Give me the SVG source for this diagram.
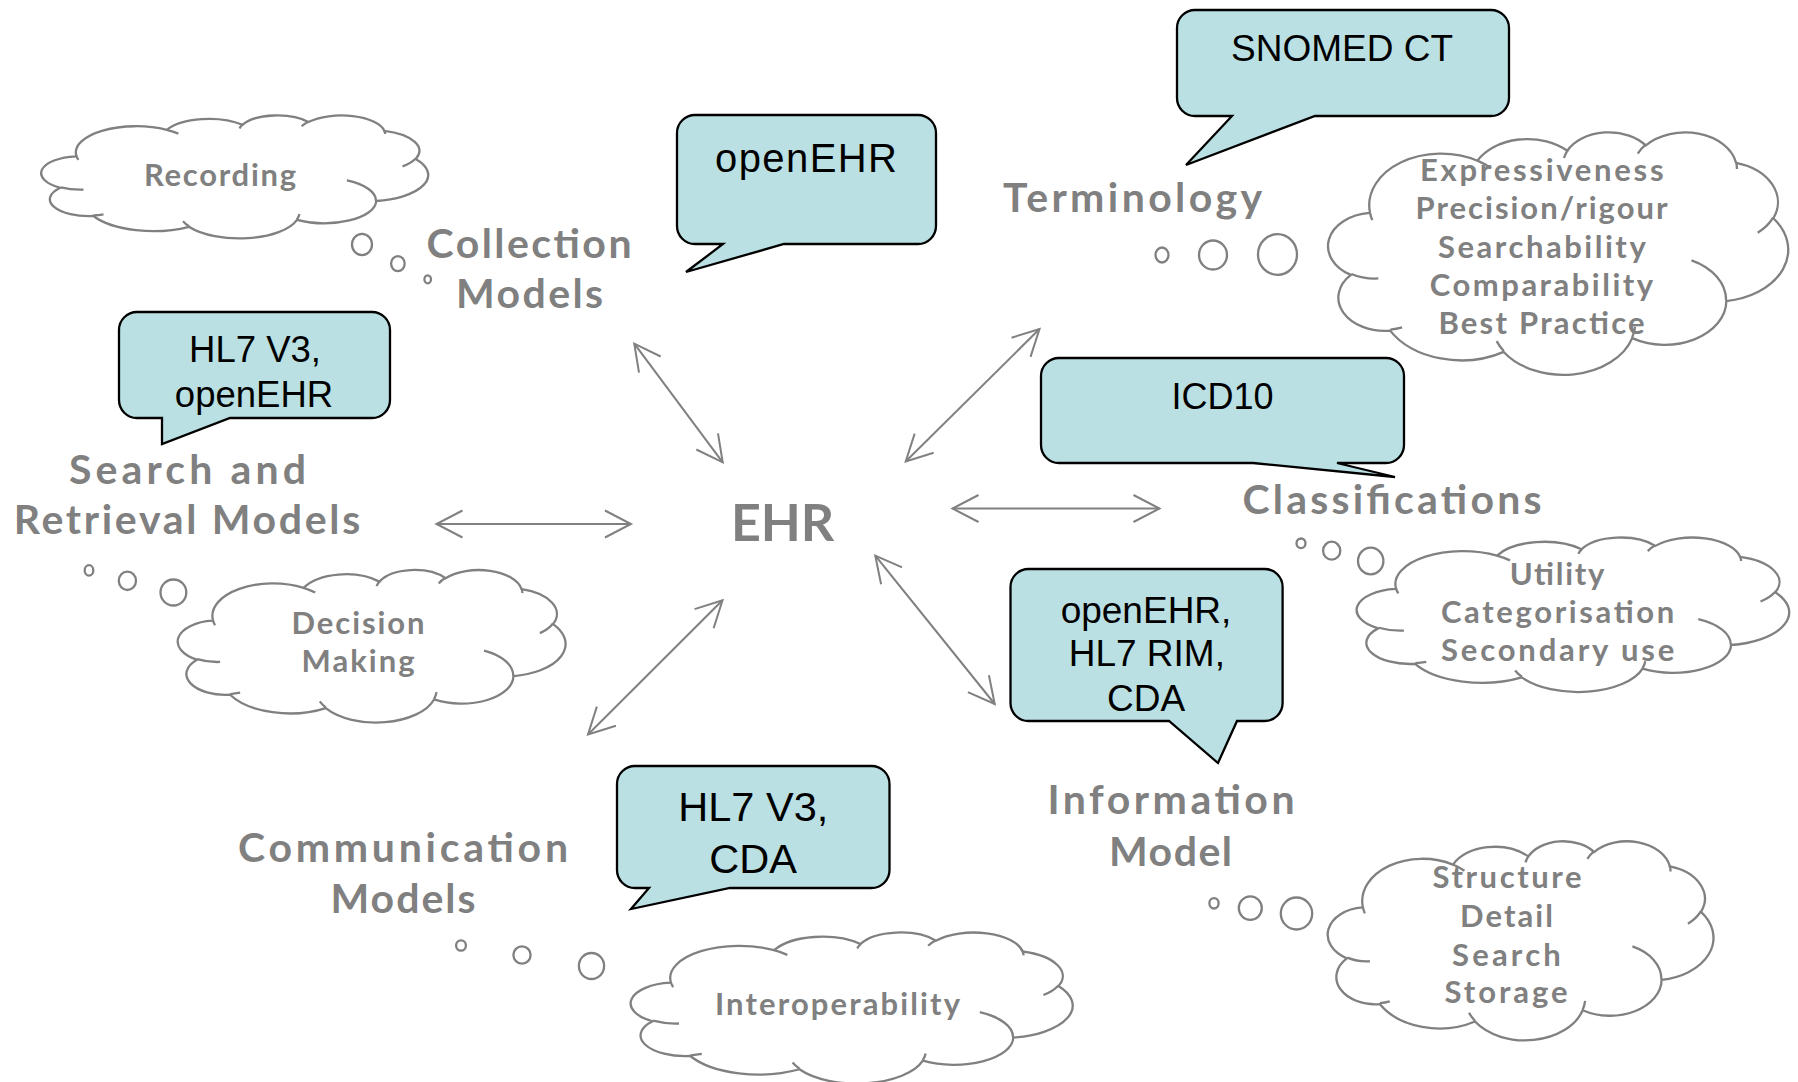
<svg xmlns="http://www.w3.org/2000/svg" xmlns:xlink="http://www.w3.org/1999/xlink" width="1798" height="1082" viewBox="0 0 1798 1082">
<style>
.lbl{font-family:Lato,"DejaVu Sans",sans-serif;font-size:41px;font-weight:bold;fill:#808080;text-anchor:middle}
.ehr{font-family:Lato,"DejaVu Sans",sans-serif;font-size:52px;font-weight:bold;fill:#808080;text-anchor:middle}
.th{font-family:Lato,"DejaVu Sans",sans-serif;font-size:31px;font-weight:bold;fill:#808080;text-anchor:middle}
.bt{font-family:"Liberation Sans",Arial,sans-serif;fill:#000;text-anchor:middle}
.bubble{fill:#BBE0E3;stroke:#000;stroke-width:2.3;stroke-linejoin:miter}
.conn{stroke:#808080;stroke-width:2;fill:none;marker-start:url(#ah);marker-end:url(#ah)}
.dot{fill:#fff;stroke:#808080;stroke-width:2.3}
</style>
<defs>
<marker id="ah" markerUnits="userSpaceOnUse" markerWidth="40" markerHeight="40" viewBox="-35 -20 40 40" refX="0" refY="0" orient="auto-start-reverse" overflow="visible">
<path d="M -26 -13.5 L 0 0 L -26 13.5" fill="none" stroke="#808080" stroke-width="2"/>
</marker>
<path id="cloud" fill="#fff" stroke="#808080" stroke-width="2.3" vector-effect="non-scaling-stroke" d="M3900 14370 A6753 9190 0 0 1 14005 5202 A5333 7267 0 0 1 22456 3432 A4365 5945 0 0 1 29833 2481 A4857 6595 0 0 1 38318 5576 A5333 7273 0 0 1 41819 15460 A6775 9220 0 0 1 37405 30203 A5785 7867 0 0 1 28556 36814 A6752 9215 0 0 1 16481 39265 A7720 10543 0 0 1 5805 35471 A4360 5918 0 0 1 2113 25549 A4345 5945 0 0 1 3863 14506 Z"/>
<path id="cloudIn" fill="none" stroke="#808080" stroke-width="2.3" vector-effect="non-scaling-stroke" d="M4693 26177 A4345 5945 0 0 1 2160 25380 M6928 34899 A4360 5918 0 0 1 5820 35280 M16478 39090 A6752 9215 0 0 1 15810 37350 M28827 34751 A6752 9215 0 0 1 28560 36660 M34129 22954 A5785 7867 0 0 1 37380 30090 M41798 15354 A5333 7273 0 0 1 40351 18030 M38324 5426 A4857 6595 0 0 1 38400 6690 M29078 3952 A4857 6595 0 0 1 29820 2341 M22141 4720 A4365 5945 0 0 1 22500 3330 M14000 5192 A6753 9190 0 0 1 15300 6540 M4127 15789 A6753 9190 0 0 1 3900 14370"/>
</defs>
<rect x="0" y="0" width="1798" height="1082" fill="#fff"/>

<g id="connectors">
<line class="conn" x1="634.3" y1="343.7" x2="722.7" y2="462.3"/>
<line class="conn" x1="436.5" y1="524" x2="631" y2="524"/>
<line class="conn" x1="722.5" y1="600.3" x2="588" y2="734.5"/>
<line class="conn" x1="875.3" y1="555.6" x2="994.7" y2="704"/>
<line class="conn" x1="952.5" y1="508.5" x2="1159.5" y2="508.5"/>
<line class="conn" x1="905.7" y1="461.5" x2="1039.5" y2="329"/>
</g>

<g id="thought-recording">
<g transform="translate(41.5 115) scale(0.0089468 0.0028472)"><use xlink:href="#cloud" href="#cloud"/><use xlink:href="#cloudIn" href="#cloudIn"/></g>
<ellipse class="dot" cx="362" cy="244.5" rx="10" ry="10.7"/>
<ellipse class="dot" cx="397.9" cy="263.6" rx="6.8" ry="7.5"/>
<ellipse class="dot" cx="427.7" cy="279.3" rx="3.3" ry="4"/>
<text class="th" x="220" y="186" textLength="152" lengthAdjust="spacing">Recording</text>
</g>

<g id="thought-terminology">
<g transform="translate(1328.4 131.5) scale(0.010639 0.0056134)"><use xlink:href="#cloud" href="#cloud"/><use xlink:href="#cloudIn" href="#cloudIn"/></g>
<ellipse class="dot" cx="1162" cy="255" rx="6.5" ry="7.5"/>
<ellipse class="dot" cx="1213" cy="255" rx="14" ry="14.5"/>
<ellipse class="dot" cx="1277.5" cy="254.5" rx="19.5" ry="20.3"/>
<text class="th" x="1541.8" y="180.8" textLength="243.5" lengthAdjust="spacing">Expressiveness</text>
<text class="th" x="1541.5" y="218.7" textLength="252" lengthAdjust="spacing">Precision/rigour</text>
<text class="th" x="1541.9" y="257.6" textLength="207.7" lengthAdjust="spacing">Searchability</text>
<text class="th" x="1541.5" y="295.5" textLength="223.4" lengthAdjust="spacing">Comparability</text>
<text class="th" x="1541.5" y="334" textLength="206.2" lengthAdjust="spacing">Best Practice</text>
</g>

<g id="thought-classifications">
<g transform="translate(1357 537) scale(0.01 0.0035764)"><use xlink:href="#cloud" href="#cloud"/><use xlink:href="#cloudIn" href="#cloudIn"/></g>
<ellipse class="dot" cx="1301" cy="543.3" rx="4.5" ry="4.8"/>
<ellipse class="dot" cx="1331.7" cy="550.7" rx="8.6" ry="9"/>
<ellipse class="dot" cx="1370.7" cy="561" rx="12.7" ry="13.3"/>
<text class="th" x="1557" y="585" textLength="94.5" lengthAdjust="spacing">Utility</text>
<text class="th" x="1557.6" y="623" textLength="233.3" lengthAdjust="spacing">Categorisation</text>
<text class="th" x="1557.6" y="661" textLength="233.3" lengthAdjust="spacing">Secondary use</text>
</g>

<g id="thought-decision">
<g transform="translate(178 569.5) scale(0.0089676 0.0035301)"><use xlink:href="#cloud" href="#cloud"/><use xlink:href="#cloudIn" href="#cloudIn"/></g>
<ellipse class="dot" cx="89" cy="570.4" rx="4.3" ry="5.2"/>
<ellipse class="dot" cx="127.4" cy="580.8" rx="8.6" ry="9.2"/>
<ellipse class="dot" cx="173.4" cy="592.5" rx="12.9" ry="13"/>
<text class="th" x="358" y="634" textLength="133" lengthAdjust="spacing">Decision</text>
<text class="th" x="358" y="672" textLength="113" lengthAdjust="spacing">Making</text>
</g>

<g id="thought-interoperability">
<g transform="translate(631 932) scale(0.0102199 0.0034954)"><use xlink:href="#cloud" href="#cloud"/><use xlink:href="#cloudIn" href="#cloudIn"/></g>
<ellipse class="dot" cx="461" cy="945.5" rx="4.9" ry="5.2"/>
<ellipse class="dot" cx="522" cy="955" rx="8.6" ry="8.6"/>
<ellipse class="dot" cx="591.5" cy="966" rx="12.6" ry="13"/>
<text class="th" x="837.5" y="1015.3" textLength="245" lengthAdjust="spacing">Interoperability</text>
</g>

<g id="thought-structure">
<g transform="translate(1328 840.6) scale(0.008919 0.0046088)"><use xlink:href="#cloud" href="#cloud"/><use xlink:href="#cloudIn" href="#cloudIn"/></g>
<ellipse class="dot" cx="1214" cy="903.3" rx="4.6" ry="5.2"/>
<ellipse class="dot" cx="1250.3" cy="908.1" rx="11.5" ry="11.8"/>
<ellipse class="dot" cx="1296.5" cy="913.5" rx="15.7" ry="16"/>
<text class="th" x="1507" y="888.4" textLength="149" lengthAdjust="spacing">Structure</text>
<text class="th" x="1506.5" y="927" textLength="92.8" lengthAdjust="spacing">Detail</text>
<text class="th" x="1506.4" y="965.9" textLength="108.8" lengthAdjust="spacing">Search</text>
<text class="th" x="1506" y="1003" textLength="123" lengthAdjust="spacing">Storage</text>
</g>

<g id="node-ehr">
<text class="ehr" x="782.6" y="541.3" textLength="103" lengthAdjust="spacing">EHR</text>
</g>
<g id="node-collection">
<text class="lbl" x="529" y="258" textLength="205" lengthAdjust="spacing">Collection</text>
<text class="lbl" x="529.6" y="308" textLength="147" lengthAdjust="spacing">Models</text>
</g>
<g id="node-search">
<text class="lbl" x="187.5" y="483.5" textLength="237" lengthAdjust="spacing">Search and</text>
<text class="lbl" x="187" y="534" textLength="346.5" lengthAdjust="spacing">Retrieval Models</text>
</g>
<g id="node-terminology">
<text class="lbl" x="1132.6" y="212" textLength="259" lengthAdjust="spacing">Terminology</text>
</g>
<g id="node-classifications">
<text class="lbl" x="1392" y="514" textLength="299" lengthAdjust="spacing">Classifications</text>
</g>
<g id="node-information">
<text class="lbl" x="1171" y="814" textLength="247" lengthAdjust="spacing">Information</text>
<text class="lbl" x="1170.5" y="866" textLength="123" lengthAdjust="spacing">Model</text>
</g>
<g id="node-communication">
<text class="lbl" x="403" y="862" textLength="330" lengthAdjust="spacing">Communication</text>
<text class="lbl" x="403" y="912.6" textLength="145" lengthAdjust="spacing">Models</text>
</g>

<g id="bubble-openehr">
<path class="bubble" d="M695 115 H918 A18 18 0 0 1 936 133 V226 A18 18 0 0 1 918 244 H784 L686 272 L723 244 H695 A18 18 0 0 1 677 226 V133 A18 18 0 0 1 695 115 Z"/>
<text class="bt" x="806" y="172" font-size="40" textLength="182" lengthAdjust="spacing">openEHR</text>
</g>
<g id="bubble-snomed">
<path class="bubble" d="M1195 10 H1491 A18 18 0 0 1 1509 28 V98 A18 18 0 0 1 1491 116 H1315 L1186 165 L1232 116 H1195 A18 18 0 0 1 1177 98 V28 A18 18 0 0 1 1195 10 Z"/>
<text class="bt" x="1342" y="61" font-size="37">SNOMED CT</text>
</g>
<g id="bubble-hl7-openehr">
<path class="bubble" d="M137 312 H372 A18 18 0 0 1 390 330 V400 A18 18 0 0 1 372 418 H230 L162 444 L162 418 H137 A18 18 0 0 1 119 400 V330 A18 18 0 0 1 137 312 Z"/>
<text class="bt" x="255" y="361.6" font-size="36.5">HL7 V3,</text>
<text class="bt" x="254" y="407" font-size="36.5">openEHR</text>
</g>
<g id="bubble-icd10">
<path class="bubble" d="M1059 358 H1386 A18 18 0 0 1 1404 376 V445 A18 18 0 0 1 1386 463 H1337 L1395 477 L1253 463 H1059 A18 18 0 0 1 1041 445 V376 A18 18 0 0 1 1059 358 Z"/>
<text class="bt" x="1222.5" y="409" font-size="36">ICD10</text>
</g>
<g id="bubble-hl7-cda">
<path class="bubble" d="M635 766 H871.5 A18 18 0 0 1 889.5 784 V870 A18 18 0 0 1 871.5 888 H730 L631 909 L649 888 H635 A18 18 0 0 1 617 870 V784 A18 18 0 0 1 635 766 Z"/>
<text class="bt" x="753.3" y="821" font-size="41.5">HL7 V3,</text>
<text class="bt" x="753" y="872.7" font-size="41.5">CDA</text>
</g>
<g id="bubble-info-model">
<path class="bubble" d="M1028.5 569 H1264.6 A18 18 0 0 1 1282.6 587 V703 A18 18 0 0 1 1264.6 721 H1237 L1218 763 L1169 721 H1028.5 A18 18 0 0 1 1010.5 703 V587 A18 18 0 0 1 1028.5 569 Z"/>
<text class="bt" x="1146" y="623" font-size="37">openEHR,</text>
<text class="bt" x="1146.8" y="666" font-size="37">HL7 RIM,</text>
<text class="bt" x="1146" y="711" font-size="37">CDA</text>
</g>
</svg>
